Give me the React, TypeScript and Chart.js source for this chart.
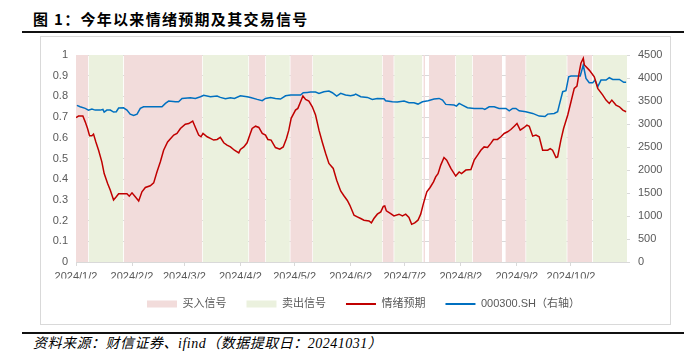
import React, { useEffect, useRef } from 'react';
import { Chart, registerables } from 'chart.js';

Chart.register(...registerables);

// ---- data ----
const xTickLabels = ['2024/1/2', '2024/2/2', '2024/3/2', '2024/4/2', '2024/5/2', '2024/6/2', '2024/7/2', '2024/8/2', '2024/9/2', '2024/10/2'];
const X_MAX_DAY = 305; // days after 2024/1/2 at the right edge

// [days after 2024/1/2, value]
const sentimentPoints: [number, number][] = [
  [0, 0.698], [1.4, 0.705], [3.8, 0.705], [5.1, 0.677], [6.4, 0.645], [7.5, 0.61], [8.8, 0.61], [9.7, 0.618], [11, 0.58], [12.5, 0.54],
  [14.3, 0.484], [15.6, 0.427], [17.5, 0.379], [19, 0.347], [20.8, 0.3], [22.3, 0.315], [23.6, 0.33], [28.2, 0.33], [29.5, 0.318], [31, 0.334],
  [32.8, 0.315], [34.7, 0.295], [36.5, 0.339], [38.4, 0.36], [41.1, 0.368], [43, 0.382], [44.8, 0.435], [46.7, 0.484], [48.5, 0.54], [50.7, 0.58],
  [54.1, 0.613], [55.9, 0.621], [57.8, 0.645], [60.5, 0.666], [62.4, 0.669], [64.6, 0.681], [66.1, 0.65], [67.9, 0.613], [69.2, 0.605], [70.3, 0.621],
  [72.6, 0.605], [74.4, 0.597], [76.2, 0.589], [78.1, 0.592], [79.9, 0.602], [81.8, 0.576], [83.6, 0.565], [85.5, 0.556], [87.7, 0.54], [90.1, 0.527],
  [91, 0.544], [92.9, 0.556], [94.7, 0.576], [96.2, 0.613], [97.5, 0.645], [99.4, 0.656], [101.2, 0.65], [103.1, 0.621], [104.9, 0.613], [106.2, 0.592],
  [108, 0.589], [110.4, 0.553], [112.8, 0.545], [114.7, 0.556], [116.5, 0.597], [117.8, 0.637], [119.1, 0.694], [121.5, 0.734], [122.8, 0.742], [124.3, 0.774],
  [125.6, 0.802], [127.1, 0.785], [128.9, 0.777], [130.8, 0.75], [132.6, 0.71], [134.5, 0.637], [136.3, 0.58], [138.2, 0.524], [140, 0.476], [142.4, 0.452],
  [144.3, 0.395], [146.5, 0.343], [148.3, 0.32], [150.2, 0.297], [151.6, 0.274], [153.9, 0.226], [155.7, 0.218], [157.6, 0.21], [159.4, 0.202], [162.2, 0.198],
  [163.5, 0.189], [164.9, 0.21], [166.8, 0.231], [168.7, 0.242], [170.1, 0.269], [170.9, 0.271], [171.8, 0.247], [174.2, 0.234], [176, 0.223], [178.8, 0.231],
  [180.7, 0.223], [182.5, 0.231], [184.3, 0.215], [185.8, 0.182], [187.5, 0.189], [189.3, 0.202], [190.8, 0.231], [192.3, 0.282], [194.2, 0.339], [196, 0.36],
  [197.9, 0.387], [199.1, 0.411], [200.4, 0.427], [201.9, 0.468], [203.7, 0.505], [205.2, 0.492], [207.5, 0.452], [210.2, 0.415], [212.1, 0.435], [213.4, 0.427],
  [215.8, 0.444], [218.6, 0.447], [220.4, 0.492], [222.3, 0.516], [224.1, 0.54], [225.9, 0.556], [227.8, 0.553], [229.6, 0.573], [231.1, 0.592], [233.3, 0.592],
  [235.2, 0.605], [237, 0.621], [238.9, 0.629], [240.7, 0.64], [242.6, 0.656], [244.1, 0.669], [245.9, 0.637], [248.1, 0.65], [249.6, 0.661], [250.9, 0.656],
  [252.8, 0.608], [254.6, 0.613], [256.4, 0.605], [258.3, 0.54], [261.1, 0.54], [262.5, 0.548], [263.8, 0.54], [265.7, 0.505], [266.6, 0.508], [268.4, 0.589],
  [269.9, 0.645], [272.2, 0.71], [274, 0.774], [275.8, 0.839], [277.3, 0.85], [278.6, 0.919], [279.5, 0.96], [280.8, 0.984], [281.4, 0.952], [284.1, 0.927],
  [286.9, 0.895], [288.8, 0.839], [291.6, 0.806], [293.4, 0.782], [295.2, 0.766], [296.6, 0.782], [298.9, 0.758], [300.8, 0.75], [302.7, 0.734], [304.5, 0.726],
];

const csi300Points: [number, number][] = [
  [0.5, 3404], [2.3, 3375], [5.1, 3339], [6.9, 3302], [8.8, 3324], [10.6, 3302], [13.4, 3302], [14.9, 3317], [15.6, 3259], [17.1, 3302],
  [19, 3302], [20.8, 3259], [22.3, 3266], [23.6, 3346], [26.3, 3353], [28.2, 3302], [30, 3215], [31.9, 3186], [33.8, 3215], [35.6, 3339],
  [37.4, 3375], [47.6, 3375], [49.5, 3448], [51.3, 3498], [55, 3484], [56.8, 3484], [58.7, 3556], [63.3, 3571], [66.1, 3556], [68.9, 3593],
  [70.7, 3622], [74.4, 3593], [78.1, 3607], [79.9, 3578], [82.7, 3549], [85.5, 3571], [87.7, 3556], [91, 3614], [94.7, 3593], [96.6, 3578],
  [100.3, 3535], [103.1, 3506], [104.9, 3556], [107.7, 3578], [110.4, 3556], [113.2, 3542], [116, 3614], [118.8, 3629], [124.3, 3629], [125.8, 3680],
  [128, 3687], [129.8, 3694], [132.6, 3694], [134.5, 3665], [137.2, 3702], [140, 3716], [141.9, 3680], [144.3, 3607], [146.5, 3665], [149.2, 3629],
  [152, 3614], [153.9, 3629], [154.8, 3651], [157.6, 3593], [161.3, 3578], [164, 3535], [166.8, 3556], [170.5, 3549], [171.4, 3506], [175.1, 3484],
  [177.9, 3477], [181.6, 3498], [184.3, 3462], [187.1, 3462], [189.3, 3433], [191.8, 3484], [194.9, 3506], [198.2, 3542], [201, 3556], [202.9, 3520],
  [204.7, 3426], [209.3, 3411], [210.6, 3389], [212.1, 3448], [213.9, 3411], [216.7, 3353], [220.4, 3339], [225, 3339], [226.3, 3317], [228.7, 3375],
  [231.5, 3375], [234.2, 3339], [238, 3339], [239.8, 3288], [241.7, 3339], [243.5, 3339], [245.3, 3288], [249, 3266], [252.8, 3230], [256.4, 3172],
  [259.6, 3164], [261.1, 3215], [264.7, 3230], [266.6, 3266], [267.5, 3411], [269.4, 3702], [271.2, 3723], [272.7, 4027], [274, 4042], [279.1, 4042],
  [280.8, 4282], [282.3, 3992], [284.1, 3897], [286, 3897], [287.3, 3955], [288.8, 3810], [290.6, 3955], [293.4, 3955], [295.2, 4006], [297.1, 3970],
  [300.8, 3970], [303.2, 3905], [304.5, 3905],
];

// signal periods, [start day, end day]
const buyBands: [number, number][] = [
  [0, 6.7], [26.6, 69.8], [95.8, 104.7], [118.7, 130.8], [169.8, 175.8], [192.4, 193.2], [195.4, 209.9], [219.7, 235.8], [237.8, 248.8], [272, 285.8],
];
const sellBands: [number, number][] = [
  [7.1, 26.1], [70.2, 95.4], [105.1, 118.3], [131.2, 169.4], [176.2, 191.6], [210.3, 219.3], [249.2, 271.6], [286.2, 305],
];

const seriesNames = ['买入信号', '卖出信号', '情绪预期', '000300.SH（右轴）'];

// ---- helpers ----
const dayOf = (label: string) => {
  const [y, m, d] = label.split('/').map(Number);
  return Math.round((Date.UTC(y, m - 1, d) - Date.UTC(2024, 0, 2)) / 86400000);
};
const xTickDays = xTickLabels.map(dayOf);

const bandData = (bands: [number, number][]) => {
  const pts: { x: number; y: number }[] = [];
  if (bands[0][0] > 0) pts.push({ x: 0, y: 0 });
  bands.forEach(([s, e]) => {
    pts.push({ x: s, y: 1 });
    pts.push({ x: e, y: 0 });
  });
  return pts;
};

const PINK = '#F2DCDB';
const GREEN = '#EBF1DE';
const RED = '#C00000';
const BLUE = '#0070C0';
const AXIS_FONT = '"Liberation Sans", "Noto Sans CJK SC", sans-serif';

const legendShift = {
  id: 'legendShift',
  afterLayout(chart: any) {
    if (chart.legend) {
      chart.legend.left += 8;
      chart.legend.right += 8;
    }
  },
};

function SignalChart() {
  const ref = useRef<HTMLCanvasElement>(null);
  useEffect(() => {
    if (!ref.current) return;
    const band = (label: string, bands: [number, number][], color: string) => ({
      type: 'line' as const,
      label,
      data: bandData(bands),
      yAxisID: 'y',
      stepped: true,
      fill: 'origin',
      backgroundColor: color,
      borderColor: 'rgba(0,0,0,0)',
      borderWidth: 0,
      pointRadius: 0,
      pointHoverRadius: 0,
      pointStyle: 'rect',
      pointBackgroundColor: color,
      pointBorderColor: 'rgba(0,0,0,0)',
      pointBorderWidth: 0,
    });
    const line = (label: string, pts: [number, number][], color: string, axis: string) => ({
      type: 'line' as const,
      label,
      data: pts.map(([x, y]) => ({ x, y })),
      yAxisID: axis,
      fill: false,
      borderColor: color,
      backgroundColor: color,
      borderWidth: 1.5,
      tension: 0,
      pointRadius: 0,
      pointHoverRadius: 0,
      pointStyle: 'line',
      pointBorderColor: color,
      pointBackgroundColor: color,
      pointBorderWidth: 2,
    });
    const chart = new Chart(ref.current, {
      type: 'line',
      data: {
        datasets: [
          band(seriesNames[0], buyBands, PINK),
          band(seriesNames[1], sellBands, GREEN),
          line(seriesNames[2], sentimentPoints, RED, 'y'),
          line(seriesNames[3], csi300Points, BLUE, 'y1'),
        ] as any,
      },
      plugins: [legendShift],
      options: {
        responsive: false,
        animation: false,
        layout: { padding: { top: 18, left: 0, right: 0, bottom: 4.5 } },
        plugins: {
          filler: { drawTime: 'beforeDatasetsDraw' },
          tooltip: { enabled: false },
          legend: {
            position: 'bottom',
            labels: {
              usePointStyle: true,
              pointStyleWidth: 30,
              boxHeight: 7,
              padding: 20,
              color: '#595959',
              font: { size: 11, family: AXIS_FONT },
            },
          },
        },
        scales: {
          x: {
            type: 'linear',
            min: 0,
            max: X_MAX_DAY,
            afterBuildTicks: (scale: any) => {
              scale.ticks = xTickDays.map((v) => ({ value: v }));
            },
            afterFit: (scale: any) => {
              scale.height = 16.5;
            },
            ticks: {
              autoSkip: false,
              maxRotation: 0,
              padding: 4,
              color: '#595959',
              font: { size: 11, family: AXIS_FONT },
              callback: (_v: any, i: number) => xTickLabels[i],
            },
            grid: { drawOnChartArea: false, drawTicks: true, tickLength: 4, color: '#D9D9D9' },
            border: { display: true, color: '#D9D9D9' },
          },
          y: {
            position: 'left',
            min: 0,
            max: 1,
            afterFit: (scale: any) => {
              scale.width = 35;
            },
            ticks: {
              stepSize: 0.1,
              padding: 8,
              color: '#595959',
              font: { size: 11, family: AXIS_FONT },
              callback: (v: any) => String(Number(Number(v).toFixed(1))),
            },
            grid: { color: '#D9D9D9', drawTicks: false },
            border: { display: false },
          },
          y1: {
            position: 'right',
            min: 0,
            max: 4500,
            afterFit: (scale: any) => {
              scale.width = 43;
            },
            ticks: {
              stepSize: 500,
              padding: 8,
              color: '#595959',
              font: { size: 11, family: AXIS_FONT },
              callback: (v: any) => String(v),
            },
            grid: { drawOnChartArea: false, drawTicks: true, tickLength: 3, color: '#D9D9D9' },
            border: { display: false },
          },
        },
      } as any,
    });
    return () => chart.destroy();
  }, []);
  return <canvas ref={ref} width={629} height={287} style={{ display: 'block', width: 629, height: 287 }} />;
}

export default function App() {
  return (
    <div style={{ position: 'absolute', left: 0, top: 0, width: 684, height: 357, background: '#fff', overflow: 'hidden' }}>
      <div
        style={{
          position: 'absolute',
          left: 33,
          top: 9,
          fontFamily: '"Noto Sans CJK SC", sans-serif',
          fontWeight: 700,
          fontSize: 15,
          lineHeight: '20px',
          letterSpacing: 1.3,
          color: '#000',
          whiteSpace: 'nowrap',
        }}
      >
        图 1：今年以来情绪预期及其交易信号
      </div>
      <div style={{ position: 'absolute', left: 22, top: 31, width: 662, height: 2, background: '#111' }} />
      <div
        style={{
          position: 'absolute',
          left: 40,
          top: 36,
          width: 631,
          height: 289,
          border: '1px solid #D9D9D9',
          boxSizing: 'border-box',
        }}
      >
        <SignalChart />
      </div>
      <div style={{ position: 'absolute', left: 22, top: 332, width: 662, height: 2, background: '#111' }} />
      <div
        style={{
          position: 'absolute',
          left: 33,
          top: 335,
          fontFamily: '"Liberation Serif", "Noto Sans CJK SC", serif',
          fontStyle: 'italic',
          fontSize: 14,
          lineHeight: '18px',
          letterSpacing: 0.5,
          color: '#000',
          whiteSpace: 'nowrap',
        }}
      >
        资料来源：财信证券、ifind（数据提取日：20241031）
      </div>
    </div>
  );
}
